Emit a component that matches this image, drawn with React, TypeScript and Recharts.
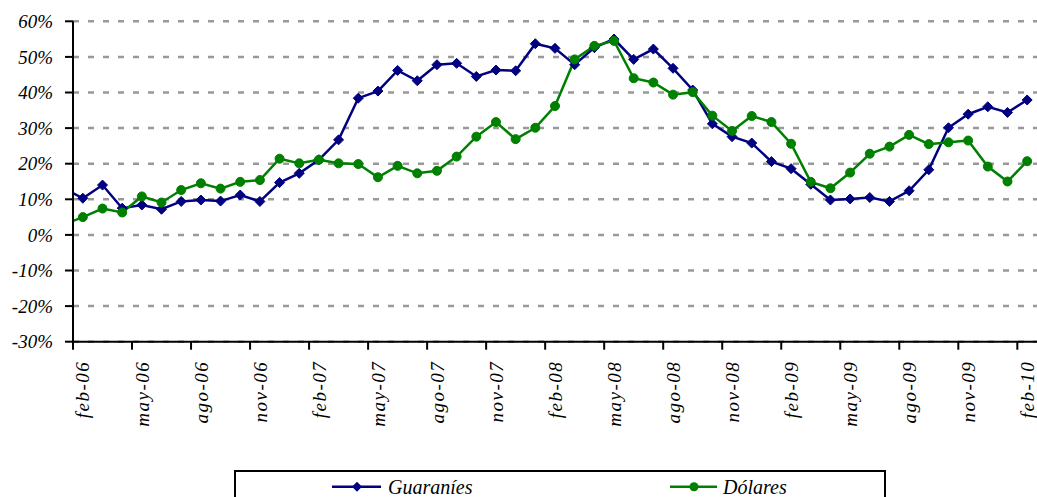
import React from 'react';
import { LineChart, Line, XAxis, YAxis, CartesianGrid, Legend } from 'recharts';

const months = [
  'ene-06', 'feb-06', 'mar-06', 'abr-06', 'may-06', 'jun-06', 'jul-06', 'ago-06', 'sep-06', 'oct-06', 'nov-06', 'dic-06',
  'ene-07', 'feb-07', 'mar-07', 'abr-07', 'may-07', 'jun-07', 'jul-07', 'ago-07', 'sep-07', 'oct-07', 'nov-07', 'dic-07',
  'ene-08', 'feb-08', 'mar-08', 'abr-08', 'may-08', 'jun-08', 'jul-08', 'ago-08', 'sep-08', 'oct-08', 'nov-08', 'dic-08',
  'ene-09', 'feb-09', 'mar-09', 'abr-09', 'may-09', 'jun-09', 'jul-09', 'ago-09', 'sep-09', 'oct-09', 'nov-09', 'dic-09',
  'ene-10', 'feb-10',
];

const guaranies = [
  13.2, 10.3, 14.0, 7.5, 8.4, 7.2, 9.4, 9.8, 9.5, 11.2, 9.4, 14.7,
  17.3, 21.1, 26.7, 38.4, 40.4, 46.2, 43.3, 47.8, 48.2, 44.5, 46.3, 46.1,
  53.7, 52.4, 47.8, 52.6, 55.0, 49.3, 52.2, 46.8, 40.7, 31.2, 27.6, 25.8,
  20.6, 18.6, 14.2, 9.8, 10.1, 10.5, 9.4, 12.4, 18.3, 30.1, 33.9, 36.0,
  34.4, 37.9,
];

const dolares = [
  2.8, 5.0, 7.4, 6.3, 10.8, 9.1, 12.6, 14.5, 13.0, 14.9, 15.4, 21.4,
  20.1, 21.1, 20.1, 19.9, 16.2, 19.4, 17.3, 18.0, 22.0, 27.6, 31.7, 26.9,
  30.1, 36.2, 49.3, 53.1, 54.5, 44.0, 42.8, 39.4, 40.1, 33.5, 29.2, 33.4,
  31.7, 25.6, 14.9, 13.1, 17.5, 22.8, 24.8, 28.1, 25.5, 26.0, 26.5, 19.2,
  15.0, 20.7,
];

const yTicks = [-30, -20, -10, 0, 10, 20, 30, 40, 50, 60];
const xTickIdx = [0, 3, 6, 9, 12, 15, 18, 21, 24, 27, 30, 33, 36, 39, 42, 45, 48];

const seriesNames = { guaranies: 'Guaraníes', dolares: 'Dólares' };
const seriesColors = { guaranies: '#000080', dolares: '#008000' };

const data = months.map((m, i) => ({
  idx: i - 1,
  label: m,
  guaranies: guaranies[i],
  dolares: dolares[i],
}));

const W = 1037;
const H = 497;
const PLOT_LEFT = 73;
const NCAT = 49;
const BW = (W - PLOT_LEFT) / NCAT;
const FONT = 'Liberation Serif, DejaVu Serif, serif';

const XTick = (props: any) => {
  const { x, y, payload } = props;
  const bx = x - BW / 2;
  const ty = y + 19;
  return (
    <g>
      <line x1={bx} y1={y} x2={bx} y2={y + 8} stroke="#000" strokeWidth={2} />
      <text
        x={x}
        y={ty}
        transform={`rotate(-90 ${x} ${ty})`}
        textAnchor="end"
        dy="0.35em"
        fill="#000"
        style={{ fontFamily: FONT, fontStyle: 'italic', fontSize: 19, letterSpacing: 1.5 }}
      >
        {months[payload.value + 1]}
      </text>
    </g>
  );
};

const YTick = (props: any) => {
  const { x, y, payload } = props;
  return (
    <text
      x={x}
      y={y}
      textAnchor="end"
      dy="0.35em"
      fill="#000"
      style={{ fontFamily: FONT, fontStyle: 'italic', fontSize: 19 }}
    >
      {`${payload.value}%`}
    </text>
  );
};

const Diamond = (props: any) => {
  const { cx, cy, fill } = props;
  if (cx == null || cy == null) return null;
  const s = 5;
  return (
    <path
      d={`M${cx},${cy - s} L${cx + s},${cy} L${cx},${cy + s} L${cx - s},${cy} Z`}
      fill={fill}
      stroke={fill}
      strokeWidth={1}
    />
  );
};

const LegendBox = (props: any) => {
  const payload = props.payload || [];
  const g = payload.find((p: any) => p.dataKey === 'guaranies');
  const d = payload.find((p: any) => p.dataKey === 'dolares');
  const ts = { fontFamily: FONT, fontStyle: 'italic', fontSize: 20 } as React.CSSProperties;
  return (
    <div
      style={{
        width: 652,
        height: 40,
        border: '2px solid #000',
        boxSizing: 'border-box',
        background: '#fff',
      }}
    >
      <svg width={648} height={36} style={{ display: 'block' }}>
        {g && (
          <g>
            <line x1={96} y1={14.7} x2={145} y2={14.7} stroke={g.color} strokeWidth={2.5} />
            <path d="M121,9.7 L126,14.7 L121,19.7 L116,14.7 Z" fill={g.color} />
            <text x={152} y={22} style={ts} fill="#000">
              {g.value}
            </text>
          </g>
        )}
        {d && (
          <g>
            <line x1={434} y1={14.7} x2={481} y2={14.7} stroke={d.color} strokeWidth={2.5} />
            <circle cx={458} cy={14.7} r={4.5} fill={d.color} />
            <text x={487} y={22} style={ts} fill="#000">
              {d.value}
            </text>
          </g>
        )}
      </svg>
    </div>
  );
};

export default function App() {
  return (
    <div
      style={{
        position: 'absolute',
        left: 0,
        top: 0,
        width: W,
        height: H,
        overflow: 'hidden',
        background: '#fff',
      }}
    >
      <LineChart
        width={W}
        height={H}
        data={data}
        margin={{ top: 21.3, right: 0, left: 0, bottom: 0 }}
      >
        <CartesianGrid
          vertical={false}
          stroke="#999"
          strokeWidth={2.5}
          strokeDasharray="6 9"
        />
        <XAxis
          dataKey="idx"
          type="number"
          domain={[-0.5, 48.5]}
          allowDataOverflow
          ticks={xTickIdx}
          interval={0}
          height={155.3}
          tickSize={0}
          tickMargin={0}
          tickLine={false}
          axisLine={{ stroke: '#000', strokeWidth: 2 }}
          tick={<XTick />}
        />
        <YAxis
          type="number"
          domain={[-30, 60]}
          ticks={yTicks}
          interval={0}
          width={73}
          tickSize={8}
          tickMargin={12}
          axisLine={{ stroke: '#000', strokeWidth: 2 }}
          tickLine={{ stroke: '#000', strokeWidth: 2 }}
          tick={<YTick />}
        />
        <Legend
          verticalAlign="middle"
          align="center"
          layout="horizontal"
          wrapperStyle={{ left: 234, top: 470, width: 652, height: 40 }}
          content={<LegendBox />}
        />
        <Line
          type="linear"
          dataKey="guaranies"
          name={seriesNames.guaranies}
          stroke={seriesColors.guaranies}
          fill={seriesColors.guaranies}
          strokeWidth={2.5}
          dot={<Diamond />}
          activeDot={false}
          isAnimationActive={false}
        />
        <Line
          type="linear"
          dataKey="dolares"
          name={seriesNames.dolares}
          stroke={seriesColors.dolares}
          fill={seriesColors.dolares}
          strokeWidth={2.5}
          dot={{ r: 4.5, fill: seriesColors.dolares, stroke: seriesColors.dolares, strokeWidth: 1 }}
          activeDot={false}
          isAnimationActive={false}
        />
      </LineChart>
    </div>
  );
}
